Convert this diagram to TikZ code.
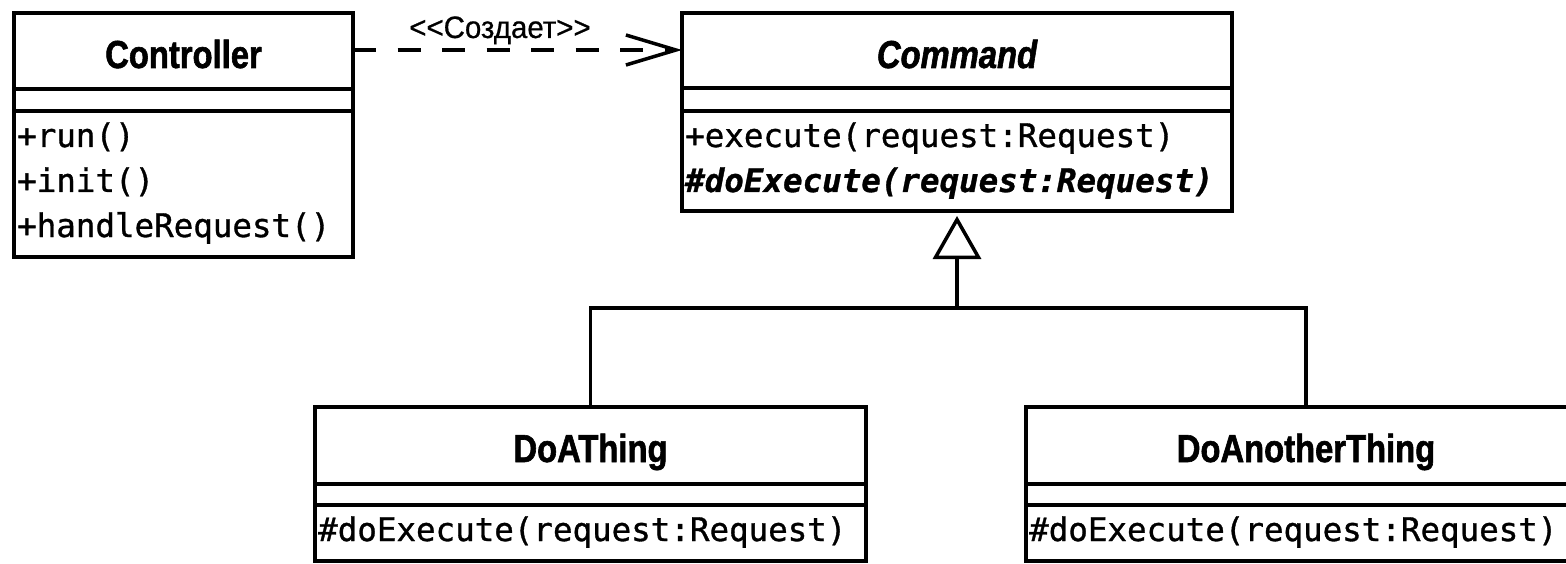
\documentclass[tikz,border=0pt]{standalone}
\usepackage{fontspec}
\usetikzlibrary{arrows.meta}
\newfontfamily\clsfont{Liberation Sans}[FakeStretch=0.84,FakeBold=1.5]
\newfontfamily\lblfont{Liberation Sans}[FakeStretch=0.95,FakeBold=0.6]
\newfontfamily\mthfont{DejaVu Sans Mono}[FakeBold=1]
\begin{document}
\begin{tikzpicture}[x=1pt,y=-1pt,
  ln/.style={line width=3.5pt},
  box/.style={draw, line width=3.5pt, inner sep=0pt, outer sep=0pt, anchor=north west},
  cname/.style={inner sep=0pt, anchor=base, font=\clsfont\bfseries\fontsize{39pt}{39pt}\selectfont},
  mth/.style={inner sep=0pt, anchor=base west, font=\mthfont\fontsize{32.5pt}{32.5pt}\selectfont},
  lbl/.style={inner sep=0pt, anchor=base, font=\lblfont\fontsize{31pt}{31pt}\selectfont}]
\useasboundingbox (0,0) rectangle (1566,564);
\clip (0,0) rectangle (1566,564);
\fill[white] (0,0) rectangle (1566,564);
% Controller
\node[box, minimum width=339pt, minimum height=244pt] (ctrl) at (14,13) {};
\draw[ln] ([yshift=-76pt]ctrl.north west) -- ([yshift=-76pt]ctrl.north east);
\draw[ln] ([yshift=-98pt]ctrl.north west) -- ([yshift=-98pt]ctrl.north east);
\node[cname] (ctrlname) at ([yshift=-55pt]ctrl.north) {Controller};
\node[mth] (ctrlm1) at ([xshift=3pt,yshift=-134pt]ctrl.north west) {+run()};
\node[mth] (ctrlm2) at ([xshift=3pt,yshift=-179pt]ctrl.north west) {+init()};
\node[mth] (ctrlm3) at ([xshift=3pt,yshift=-224pt]ctrl.north west) {+handleRequest()};
% Command
\node[box, minimum width=550pt, minimum height=198pt] (cmd) at (682,13) {};
\draw[ln] ([yshift=-75pt]cmd.north west) -- ([yshift=-75pt]cmd.north east);
\draw[ln] ([yshift=-98pt]cmd.north west) -- ([yshift=-98pt]cmd.north east);
\node[cname, font=\clsfont\bfseries\itshape\fontsize{39pt}{39pt}\selectfont] (cmdname) at ([yshift=-55pt]cmd.north) {Command};
\node[mth] (cmdm1) at ([xshift=3pt,yshift=-134pt]cmd.north west) {+execute(request:Request)};
\node[mth, font=\mthfont\bfseries\itshape\fontsize{32.5pt}{32.5pt}\selectfont] (cmdm2) at ([xshift=3pt,yshift=-179pt]cmd.north west) {\#doExecute(request:Request)};
% DoAThing
\node[box, minimum width=551pt, minimum height=154pt] (doa) at (315,407) {};
\draw[ln] ([yshift=-77pt]doa.north west) -- ([yshift=-77pt]doa.north east);
\draw[ln] ([yshift=-98pt]doa.north west) -- ([yshift=-98pt]doa.north east);
\node[cname] (doaname) at ([yshift=-55pt]doa.north) {DoAThing};
\node[mth] (doam1) at ([xshift=3pt,yshift=-134pt]doa.north west) {\#doExecute(request:Request)};
% DoAnotherThing (runs past the right edge of the picture)
\node[box, minimum width=560pt, minimum height=154pt] (dob) at (1026,407) {};
\draw[ln] ([yshift=-77pt]dob.north west) -- ([yshift=-77pt]dob.north east);
\draw[ln] ([yshift=-98pt]dob.north west) -- ([yshift=-98pt]dob.north east);
\node[cname] (dobname) at ([yshift=-55pt]dob.north) {DoAnotherThing};
\node[mth] (dobm1) at ([xshift=3pt,yshift=-134pt]dob.north west) {\#doExecute(request:Request)};
% dependency
\draw[ln, dash pattern=on 23pt off 21.5pt, -{Straight Barb[length=50pt,width=30pt]}]
  ([yshift=-37pt]ctrl.north east) -- ([yshift=-37pt]cmd.north west);
\node[lbl] (dlbl) at (500,38) {<{}<Создает>{}>};
% generalization
\coordinate (j) at ([yshift=-97pt]cmd.south);
\draw[ln] (doa.north) |- (j) -| (dob.north);
\draw[ln, -{Triangle[open, length=43pt, width=48pt]}, shorten >=5pt] (j) -- (cmd.south);
\end{tikzpicture}
\end{document}
